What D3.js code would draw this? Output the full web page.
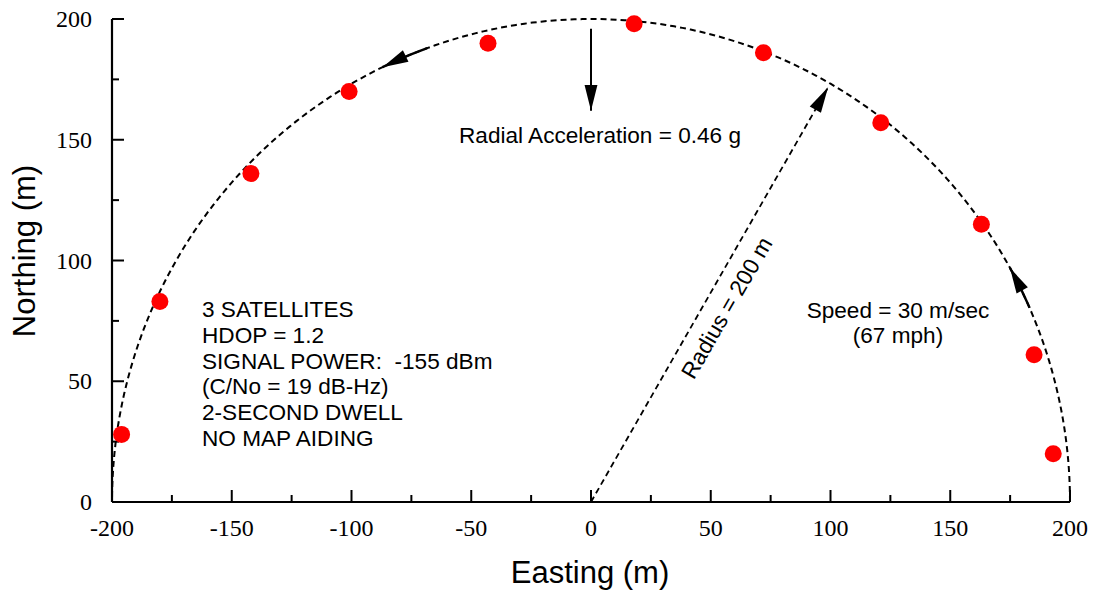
<!DOCTYPE html>
<html>
<head>
<meta charset="utf-8">
<script src="https://cdn.jsdelivr.net/npm/d3@7"></script>
<style>
  html, body { margin: 0; padding: 0; background: #fff; }
  svg { display: block; }
  text { white-space: pre; }
</style>
</head>
<body>
<script>
// ---- data ----
const eastings  = [-196, -180, -142, -101, -43, 18, 72, 121, 163, 185, 193];
const northings = [28, 83, 136, 170, 190, 198, 186, 157, 115, 61, 20];
const xTicks = [-200, -150, -100, -50, 0, 50, 100, 150, 200];
const yTicks = [0, 50, 100, 150, 200];
const xMinorTicks = [-175, -125, -75, -25, 25, 75, 125, 175];
const yMinorTicks = [25, 75, 125, 175];
const radius = 200;
const radiusAngleDeg = 60;
const accelArrow = [[0, 196], [0, 162]];
const leftArcArrowDeg = [110, 115.8];
const rightArcArrowDeg = [23.7, 29];
const infoLines = ["3 SATELLITES", "HDOP = 1.2", "SIGNAL POWER:  -155 dBm", "(C/No = 19 dB-Hz)", "2-SECOND DWELL", "NO MAP AIDING"];
const speedLines = ["Speed = 30 m/sec", "(67 mph)"];
const accelLabel = "Radial Acceleration = 0.46 g";
const radiusLabel = "Radius = 200 m";

const W = 1094, H = 593;
const svg = d3.select("body").append("svg").attr("width", W).attr("height", H);

const x = d3.scaleLinear().domain([-200, 200]).range([112, 1070]);
const y = d3.scaleLinear().domain([0, 200]).range([502, 19]);

const sans = "'Liberation Sans', Arial, sans-serif";
const serif = "'Liberation Serif', 'Times New Roman', serif";
const annSize = 22.6;

// arrow marker
const defs = svg.append("defs");
defs.append("marker")
  .attr("id", "ah").attr("markerUnits", "userSpaceOnUse")
  .attr("markerWidth", 30).attr("markerHeight", 30)
  .attr("viewBox", "-26 -8 28 16").attr("refX", 0).attr("refY", 0)
  .attr("orient", "auto")
  .append("path").attr("d", "M0,0 L-24,-6 L-24,6 Z").attr("fill", "#000");

// axes
const gx = svg.append("g").attr("transform", `translate(0,${y(0)})`);
gx.append("line").attr("x1", x(-200)).attr("x2", x(200)).attr("stroke", "#000").attr("stroke-width", 2.2);
gx.selectAll(".maj").data(xTicks).join("line")
  .attr("x1", d => x(d)).attr("x2", d => x(d)).attr("y1", 0).attr("y2", -12)
  .attr("stroke", "#000").attr("stroke-width", 2);
gx.selectAll(".min").data(xMinorTicks).join("line").attr("class", "min")
  .attr("x1", d => x(d)).attr("x2", d => x(d)).attr("y1", 0).attr("y2", -7)
  .attr("stroke", "#000").attr("stroke-width", 2);
gx.selectAll("text").data(xTicks).join("text")
  .attr("x", d => x(d)).attr("y", 34).attr("text-anchor", "middle")
  .attr("font-family", serif).attr("font-size", 24).text(d => d);

const gy = svg.append("g").attr("transform", `translate(${x(-200)},0)`);
gy.append("line").attr("y1", y(0)).attr("y2", y(200)).attr("stroke", "#000").attr("stroke-width", 2.2);
gy.selectAll(".maj").data(yTicks).join("line")
  .attr("y1", d => y(d)).attr("y2", d => y(d)).attr("x1", 0).attr("x2", 12)
  .attr("stroke", "#000").attr("stroke-width", 2);
gy.selectAll(".min").data(yMinorTicks).join("line").attr("class", "min")
  .attr("y1", d => y(d)).attr("y2", d => y(d)).attr("x1", 0).attr("x2", 7)
  .attr("stroke", "#000").attr("stroke-width", 2);
gy.selectAll("text").data(yTicks).join("text")
  .attr("x", -20).attr("y", d => y(d) + 8).attr("text-anchor", "end")
  .attr("font-family", serif).attr("font-size", 24).text(d => d);

// axis titles
svg.append("text").attr("x", 590).attr("y", 583).attr("text-anchor", "middle")
  .attr("font-family", sans).attr("font-size", 31).text("Easting (m)");
svg.append("text").attr("transform", `translate(35,251) rotate(-90)`).attr("text-anchor", "middle")
  .attr("font-family", sans).attr("font-size", 31).text("Northing (m)");

// dashed circle path
const angles = d3.range(0, 180.5, 1);
const line = d3.line().x(d => x(d[0])).y(d => y(d[1]));
svg.append("path")
  .attr("d", line(angles.map(a => [radius * Math.cos(a * Math.PI / 180), radius * Math.sin(a * Math.PI / 180)])))
  .attr("fill", "none").attr("stroke", "#000").attr("stroke-width", 2).attr("stroke-dasharray", "6,4");

// radius dashed arrow
const ra = radiusAngleDeg * Math.PI / 180;
const rEnd = [radius * Math.cos(ra) - 1, radius * Math.sin(ra) - 1.5];
svg.append("path")
  .attr("d", line([[0, 0], rEnd]))
  .attr("fill", "none").attr("stroke", "#000").attr("stroke-width", 1.8).attr("stroke-dasharray", "6,4")
  .attr("marker-end", "url(#ah)");

// radial acceleration arrow
svg.append("path").attr("d", line(accelArrow))
  .attr("fill", "none").attr("stroke", "#000").attr("stroke-width", 2)
  .attr("marker-end", "url(#ah)");

// arc arrows
function arcPts(r) {
  const [a0, a1] = r;
  return d3.range(0, 1.0001, 0.1).map(t => {
    const a = (a0 + (a1 - a0) * t) * Math.PI / 180;
    return [radius * Math.cos(a), radius * Math.sin(a)];
  });
}
[leftArcArrowDeg, rightArcArrowDeg].forEach(r => {
  svg.append("path").attr("d", line(arcPts(r)))
    .attr("fill", "none").attr("stroke", "#000").attr("stroke-width", 2.4)
    .attr("marker-end", "url(#ah)");
});

// points
svg.selectAll("circle.pt").data(eastings.map((e, i) => [e, northings[i]])).join("circle")
  .attr("class", "pt")
  .attr("cx", d => x(d[0])).attr("cy", d => y(d[1])).attr("r", 8.5).attr("fill", "#ff0000");

// annotations
svg.append("text").attr("x", 600).attr("y", 143).attr("text-anchor", "middle")
  .attr("font-family", sans).attr("font-size", annSize).text(accelLabel);

svg.append("text").attr("transform", "translate(727,308) rotate(-60)").attr("text-anchor", "middle")
  .attr("dominant-baseline", "central")
  .attr("font-family", sans).attr("font-size", annSize).text(radiusLabel);

svg.selectAll("text.spd").data(speedLines).join("text").attr("class", "spd")
  .attr("x", 898).attr("y", (d, i) => 318 + i * 25).attr("text-anchor", "middle")
  .attr("font-family", sans).attr("font-size", annSize).text(d => d);

svg.selectAll("text.info").data(infoLines).join("text").attr("class", "info")
  .attr("x", 202).attr("y", (d, i) => 317 + i * 25.8)
  .attr("font-family", sans).attr("font-size", annSize).text(d => d);
</script>
</body>
</html>
